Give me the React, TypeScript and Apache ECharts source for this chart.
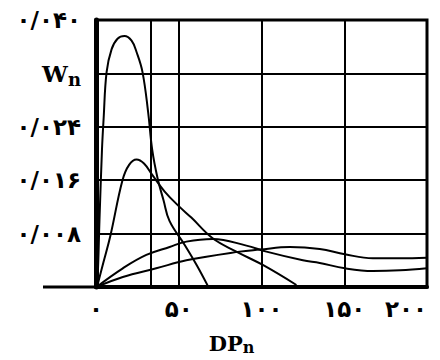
import React, { useEffect, useRef } from 'react';
import * as echarts from 'echarts';

const xTicks = [0, 50, 100, 150, 200];
const xTickLabels = ['۰', '۵۰', '۱۰۰', '۱۵۰', '۲۰۰'];
const yTickLabels = ['', '۰/۰۰۸', '۰/۰۱۶', '۰/۰۲۴', '{w|W}{n|n}', '۰/۰۴۰'];
const extraGridX = 33;

const curve1: [number, number][] = [
  [0, 0], [0.9, 0.001], [2.1, 0.01], [3.6, 0.0205], [4.6, 0.0252], [6.4, 0.0322],
  [9.4, 0.0356], [13.0, 0.0372], [17.2, 0.0376], [21.5, 0.0369], [24.5, 0.0352],
  [28.1, 0.0322], [31.5, 0.0262], [34.0, 0.0205], [37.2, 0.0163], [40.8, 0.013],
  [44.4, 0.0099], [53.6, 0.0063], [60.8, 0.0033], [67.5, 0.0002],
];
const curve2: [number, number][] = [
  [0.6, 0], [4.5, 0.0037], [8.8, 0.0078], [16.0, 0.016],
  [20.0, 0.0183], [24.5, 0.0191], [29.0, 0.0185], [34.0, 0.0168], [41.5, 0.0143],
  [50.5, 0.012], [57.6, 0.0104], [70.5, 0.0073], [84.8, 0.0053], [100.8, 0.0033],
  [121.1, 0.0003],
];
const curve3: [number, number][] = [
  [0.3, 0], [16.2, 0.0028], [30.4, 0.0048], [44.5, 0.006], [54.6, 0.0068],
  [70.5, 0.0072], [90.9, 0.0062], [103.0, 0.0053], [125.0, 0.004], [135.2, 0.0036],
  [150.4, 0.0028], [167.3, 0.0024], [183.7, 0.0025], [200, 0.0028],
];
const curve4: [number, number][] = [
  [0.3, 0], [16.2, 0.0015], [36.4, 0.0028], [54.6, 0.004], [86.8, 0.0053],
  [98.9, 0.0056], [117.1, 0.006], [135.2, 0.0057], [150.4, 0.0049],
  [167.3, 0.0043], [183.7, 0.0043], [200, 0.0044],
];

export default function App() {
  const ref = useRef<HTMLDivElement>(null);
  useEffect(() => {
    const chart = echarts.init(ref.current!, null, { renderer: 'svg' });
    const lineStyle = { color: '#000', width: 2 };
    const mk = (data: [number, number][], extra: any = {}) => ({
      type: 'line', data, smooth: 0.4, symbol: 'none', showSymbol: false,
      lineStyle, silent: true, clip: true, ...extra,
    });
    const digitFont = { fontFamily: 'DejaVu Sans', fontWeight: 'bold', fontSize: 23, color: '#000' };
    chart.setOption({
      animation: false,
      backgroundColor: '#fff',
      grid: {
        left: 96, right: 13, top: 20, bottom: 73, show: true, borderColor: '#000', borderWidth: 3,
        outerBoundsMode: 'none', containLabel: false,
      },
      xAxis: {
        type: 'value', min: 0, max: 200, interval: 50,
        axisLine: { show: true, lineStyle: { color: '#000', width: 4 } },
        axisTick: { show: false },
        splitLine: { show: true, lineStyle: { color: '#000', width: 2 } },
        axisLabel: {
          formatter: (v: number) => xTickLabels[xTicks.indexOf(v)] ?? '',
          ...digitFont, margin: 10,
          alignMaxLabel: 'right',
        },
        name: '{a|DP}{b|n}', nameLocation: 'middle', nameGap: 44,
        nameTextStyle: {
          padding: [0, 60, 0, 0],
          rich: {
            a: { fontFamily: 'DejaVu Serif', fontWeight: 'bold', fontSize: 21, color: '#000' },
            b: { fontFamily: 'DejaVu Serif', fontWeight: 'bold', fontSize: 16, color: '#000', padding: [8, 0, 0, 0] },
          },
        },
      },
      yAxis: {
        type: 'value', min: 0, max: 0.04, interval: 0.008,
        axisLine: { show: true, lineStyle: { color: '#000', width: 5 } },
        axisTick: { show: false },
        splitLine: { show: true, lineStyle: { color: '#000', width: 2 } },
        axisLabel: {
          formatter: (v: number) => yTickLabels[Math.round(v / 0.008)] ?? '',
          ...digitFont, margin: 15,
          rich: {
            w: { fontFamily: 'DejaVu Serif', fontWeight: 'bold', fontSize: 23, color: '#000' },
            n: { fontFamily: 'DejaVu Serif', fontWeight: 'bold', fontSize: 18, color: '#000', padding: [12, 0, 0, 0] },
          },
        },
      },
      graphic: [
        { type: 'line', shape: { x1: 43, y1: 287, x2: 96, y2: 287 }, style: { stroke: '#000', lineWidth: 3 } },
      ],
      series: [
        mk(curve1, {
          markLine: {
            silent: true, symbol: 'none', label: { show: false },
            lineStyle: { color: '#000', width: 2, type: 'solid' },
            data: [{ xAxis: extraGridX }],
          },
        }),
        mk(curve2),
        mk(curve3),
        mk(curve4),
      ],
    });
    return () => chart.dispose();
  }, []);
  return <div ref={ref} style={{ position: 'fixed', left: 0, top: 0, width: 440, height: 360 }} />;
}
